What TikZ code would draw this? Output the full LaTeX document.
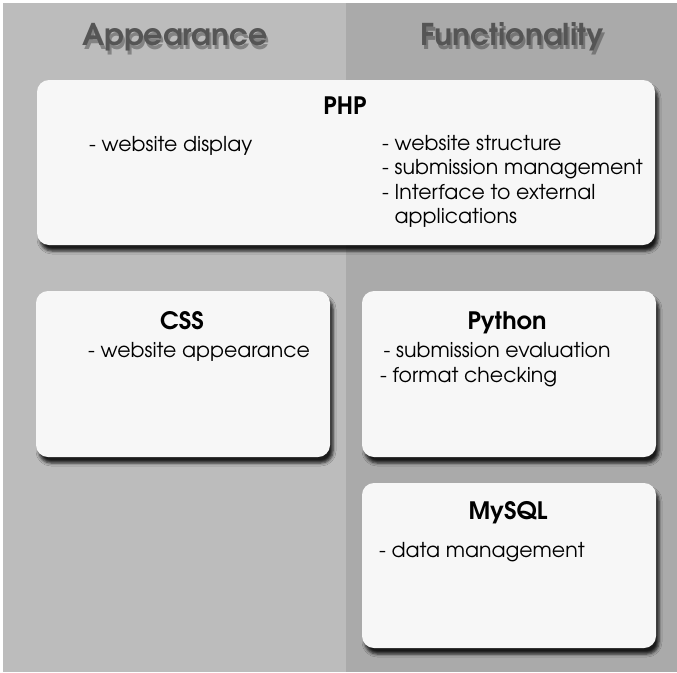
\documentclass[tikz,border=0pt]{standalone}
\usepackage{fontspec}
\setmainfont{TeX Gyre Adventor}
\usetikzlibrary{positioning,shadows.blur}
\definecolor{appgray}{HTML}{BCBCBC}
\definecolor{fungray}{HTML}{AAAAAA}
\definecolor{cardwhite}{HTML}{F7F7F7}
\definecolor{headgray}{HTML}{555555}
\tikzset{
	card/.style={draw=none, fill=cardwhite, rounded corners=12pt, inner sep=0,
		blur shadow={shadow xshift=3pt, shadow yshift=-6pt, shadow blur radius=3pt, shadow opacity=85}},
	cardtitle/.style={font=\fontsize{24}{26}\selectfont\bfseries, inner sep=0},
	cardtext/.style={font=\fontsize{20.5}{24.5}\selectfont, inner sep=0, anchor=base west, align=left},
	heading/.style={font=\fontsize{30}{32}\selectfont\bfseries, text=headgray, inner sep=0, anchor=base},
	headshadow/.style={heading, text=black, opacity=.3}
}

\begin{document}
\begin{tikzpicture}[x=1pt, y=-1pt]
	\useasboundingbox (0,0) rectangle (677,672);
	% columns
	\fill [appgray] (3,3) rectangle (346,672);
	\fill [fungray] (346,3) rectangle (677,672);
	
	% headings
	\node [headshadow] (appearsh) at (177, 49) {Appearance};
	\node [headshadow] (functsh) at (514, 49) {Functionality};
	\node [heading] (appear) at (175, 45) {Appearance};
	\node [heading] (funct) at (512, 45) {Functionality};
	
	% cards
	\node [card, minimum width=618pt, minimum height=165pt] (php) at (346, 162.5) {};
	\node [card, minimum width=294pt, minimum height=166pt] (css) at (183, 374) {};
	\node [card, minimum width=294pt, minimum height=166pt] (python) at (509, 374) {};
	\node [card, minimum width=294pt, minimum height=165pt] (mysql) at (509, 565.5) {};
	
	% titles
	\node [cardtitle, anchor=base] (phptitle) at (345, 114) {PHP};
	\node [cardtitle, anchor=base] (csstitle) at (182, 329) {CSS};
	\node [cardtitle, anchor=base] (pytitle) at (507, 329) {Python};
	\node [cardtitle, anchor=base] (sqltitle) at (508, 519) {MySQL};
	
	% items
	\node [cardtext] (phpleft) at (89, 151) {- website display};
	\node [cardtext] (phpright) at (382, 223.5) {- website structure\\- submission management\\- Interface to external\\\phantom{- }applications};
	\node [cardtext] (cssitems) at (88, 357) {- website appearance};
	\node [cardtext] (pyitems) at (380, 382) {\,- submission evaluation\\- format checking};
	\node [cardtext] (sqlitems) at (379, 557) {- data management};
\end{tikzpicture}
\end{document}
